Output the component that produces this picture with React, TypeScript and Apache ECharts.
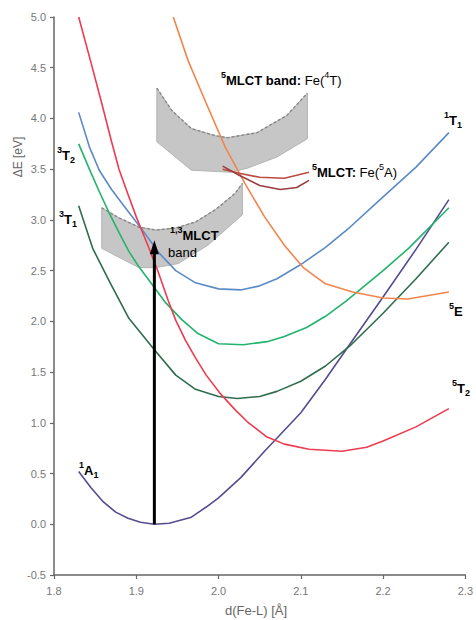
import React, { useEffect, useRef } from "react";
import * as echarts from "echarts";

// ---- Data ----
const X_TICKS = [1.8, 1.9, 2.0, 2.1, 2.2, 2.3];
const Y_TICKS = [-0.5, 0, 0.5, 1, 1.5, 2, 2.5, 3, 3.5, 4, 4.5, 5];

const A1 = [[1.83,0.52],[1.845,0.36],[1.86,0.22],[1.875,0.12],[1.89,0.06],[1.905,0.02],[1.922,0.0],[1.94,0.01],[1.967,0.07],[1.985,0.17],[2.0,0.26],[2.027,0.46],[2.057,0.73],[2.07,0.84],[2.1,1.1],[2.13,1.43],[2.16,1.78],[2.2,2.24],[2.24,2.71],[2.28,3.2]];
const T1_3 = [[1.83,3.14],[1.847,2.72],[1.867,2.4],[1.891,2.03],[1.922,1.72],[1.948,1.47],[1.972,1.33],[2.0,1.26],[2.023,1.24],[2.05,1.26],[2.071,1.31],[2.1,1.41],[2.13,1.56],[2.16,1.76],[2.2,2.08],[2.24,2.42],[2.28,2.78]];
const T2_3 = [[1.83,3.75],[1.843,3.5],[1.855,3.28],[1.867,3.07],[1.88,2.86],[1.891,2.69],[1.903,2.54],[1.915,2.41],[1.935,2.19],[1.955,2.02],[1.975,1.88],[2.0,1.78],[2.03,1.77],[2.059,1.8],[2.08,1.85],[2.107,1.94],[2.13,2.05],[2.155,2.2],[2.2,2.5],[2.231,2.72],[2.28,3.12]];
const T1_1 = [[1.83,4.06],[1.843,3.72],[1.855,3.49],[1.87,3.3],[1.883,3.16],[1.9,2.98],[1.912,2.85],[1.927,2.68],[1.948,2.5],[1.972,2.38],[2.0,2.32],[2.027,2.31],[2.05,2.35],[2.071,2.42],[2.1,2.56],[2.13,2.73],[2.16,2.93],[2.195,3.19],[2.24,3.52],[2.28,3.86]];
const T2_5 = [[1.83,5.0],[1.845,4.55],[1.858,4.15],[1.87,3.77],[1.879,3.5],[1.89,3.25],[1.9,3.03],[1.915,2.73],[1.927,2.48],[1.939,2.2],[1.948,2.01],[1.96,1.81],[1.972,1.64],[1.985,1.47],[2.003,1.28],[2.02,1.13],[2.035,1.01],[2.059,0.86],[2.08,0.79],[2.11,0.74],[2.15,0.72],[2.18,0.76],[2.2,0.82],[2.24,0.96],[2.28,1.14]];
const E_5 = [[1.945,5.0],[1.963,4.57],[1.985,4.15],[2.008,3.72],[2.032,3.36],[2.056,3.03],[2.08,2.75],[2.103,2.53],[2.13,2.37],[2.163,2.29],[2.2,2.23],[2.23,2.22],[2.28,2.29]];
const FE5A_A = [[2.005,3.5],[2.025,3.46],[2.05,3.42],[2.08,3.41],[2.11,3.47]];
const FE5A_B = [[2.005,3.53],[2.025,3.44],[2.05,3.34],[2.075,3.3],[2.095,3.32],[2.11,3.39]];

const FE4T_BAND_TOP = [[1.925,4.3],[1.943,4.08],[1.967,3.9],[1.996,3.83],[2.011,3.81],[2.047,3.86],[2.083,4.03],[2.108,4.25]];
const FE4T_BAND_BOTTOM = [[2.108,3.8],[2.071,3.62],[2.035,3.51],[2.015,3.47],[1.967,3.49],[1.925,3.77]];
const MLCT_BAND_TOP = [[1.858,3.12],[1.879,3.02],[1.903,2.93],[1.924,2.9],[1.948,2.92],[1.972,2.98],[1.996,3.1],[2.02,3.26],[2.029,3.36]];
const MLCT_BAND_BOTTOM = [[2.029,3.05],[1.987,2.75],[1.951,2.57],[1.924,2.53],[1.903,2.53],[1.858,2.72]];

const ARROW_X = 1.922;
const ARROW_FROM = 0;
const ARROW_TO = 2.8;

const FONT = '"Liberation Sans", Arial, Helvetica, sans-serif';

const CURVES = [
  { name: "1A1", data: A1, color: "#544c8e" },
  { name: "3T1", data: T1_3, color: "#2f6d4e" },
  { name: "3T2", data: T2_3, color: "#22b36c" },
  { name: "1T1", data: T1_1, color: "#5b8bc6" },
  { name: "5E", data: E_5, color: "#f2854c" },
  { name: "5T2", data: T2_5, color: "#ee3b50" },
  { name: "Fe5A_a", data: FE5A_A, color: "#bb4a40" },
  { name: "Fe5A_b", data: FE5A_B, color: "#9c3d3d" },
];

const BANDS = [
  { top: FE4T_BAND_TOP, bottom: FE4T_BAND_BOTTOM },
  { top: MLCT_BAND_TOP, bottom: MLCT_BAND_BOTTOM },
];

const rich = {
  b: { fontSize: 13, fontWeight: "bold", fontFamily: FONT, color: "#222", lineHeight: 19, verticalAlign: "middle" },
  n: { fontSize: 13, fontWeight: "normal", fontFamily: FONT, color: "#222", lineHeight: 19, verticalAlign: "middle" },
  sup: { fontSize: 9, fontWeight: "bold", fontFamily: FONT, color: "#222", lineHeight: 11, verticalAlign: "top" },
  supn: { fontSize: 9, fontWeight: "normal", fontFamily: FONT, color: "#222", lineHeight: 11, verticalAlign: "top" },
  sub: { fontSize: 9, fontWeight: "bold", fontFamily: FONT, color: "#222", lineHeight: 11, verticalAlign: "bottom" },
};

function label(text: string, x: number, y: number) {
  return {
    type: "text",
    x,
    y,
    z: 100,
    style: { text, rich, align: "left", verticalAlign: "middle" },
  };
}

export default function App() {
  const ref = useRef<HTMLDivElement>(null);
  useEffect(() => {
    if (!ref.current) return;
    const chart = echarts.init(ref.current, null, { renderer: "svg" });

    const lineSeries = CURVES.map((c) => ({
      type: "line",
      name: c.name,
      data: c.data,
      showSymbol: false,
      symbol: "none",
      smooth: false,
      lineStyle: { color: c.color, width: 1.6, join: "round" },
      z: 3,
      silent: true,
    }));

    const bandSeries = BANDS.map((band) => ({
      type: "custom",
      data: [band.top[0]],
      silent: true,
      z: 1,
      renderItem: (_params: any, api: any) => {
        const top = band.top.map((p) => api.coord(p));
        const bottom = band.bottom.map((p) => api.coord(p));
        return {
          type: "group",
          children: [
            {
              type: "polygon",
              shape: { points: top.concat(bottom) },
              style: { fill: "#c6c6c6", stroke: "#b4b4b4", lineWidth: 1 },
            },
            {
              type: "polyline",
              shape: { points: top },
              style: { fill: null, stroke: "#888", lineWidth: 1.4, lineDash: [3, 2] },
            },
          ],
        };
      },
    }));

    const arrowSeries = {
      type: "custom",
      data: [[ARROW_X, ARROW_TO]],
      silent: true,
      z: 5,
      renderItem: (_params: any, api: any) => {
        const p0 = api.coord([ARROW_X, ARROW_FROM]);
        const p1 = api.coord([ARROW_X, ARROW_TO]);
        const headLen = 14;
        const headW = 4.5;
        return {
          type: "group",
          children: [
            {
              type: "line",
              shape: { x1: p0[0], y1: p0[1], x2: p1[0], y2: p1[1] + headLen - 2 },
              style: { stroke: "#000", lineWidth: 3 },
            },
            {
              type: "polygon",
              shape: {
                points: [
                  [p1[0], p1[1]],
                  [p1[0] - headW, p1[1] + headLen],
                  [p1[0] + headW, p1[1] + headLen],
                ],
              },
              style: { fill: "#000" },
            },
          ],
        };
      },
    };

    chart.setOption({
      animation: false,
      grid: { left: 54, right: 6, top: 17, bottom: 45, containLabel: false },
      xAxis: {
        type: "value",
        min: X_TICKS[0],
        max: X_TICKS[X_TICKS.length - 1],
        interval: 0.1,
        axisLine: { show: true, onZero: false, lineStyle: { color: "#666", width: 1.5 } },
        axisTick: { show: true, length: 4, lineStyle: { color: "#666", width: 1.2 } },
        axisLabel: {
          color: "#777",
          fontSize: 11,
          fontFamily: FONT,
          margin: 10,
          formatter: (v: number) => v.toFixed(1),
        },
        splitLine: { show: false },
      },
      yAxis: {
        type: "value",
        min: Y_TICKS[0],
        max: Y_TICKS[Y_TICKS.length - 1],
        interval: 0.5,
        axisLine: { show: true, onZero: false, lineStyle: { color: "#666", width: 1.5 } },
        axisTick: { show: true, length: 4, lineStyle: { color: "#666", width: 1.2 } },
        axisLabel: {
          color: "#777",
          fontSize: 11,
          fontFamily: FONT,
          margin: 8,
          formatter: (v: number) => v.toFixed(1),
        },
        splitLine: { show: false },
      },
      graphic: [
        {
          type: "text",
          x: 18,
          y: 157,
          rotation: Math.PI / 2,
          style: {
            text: "ΔE [eV]",
            fill: "#666",
            font: `12px ${FONT}`,
            align: "center",
            verticalAlign: "middle",
          },
        },
        {
          type: "text",
          x: 256,
          y: 610,
          style: {
            text: "d(Fe-L) [Å]",
            fill: "#666",
            font: `13px ${FONT}`,
            align: "center",
            verticalAlign: "middle",
          },
        },
        label("{sup|1}{b|A}{sub|1}", 79, 470),
        label("{sup|3}{b|T}{sub|2}", 57, 155),
        label("{sup|3}{b|T}{sub|1}", 59, 219),
        label("{sup|1}{b|T}{sub|1}", 444, 120),
        label("{sup|5}{b|E}", 449, 311),
        label("{sup|5}{b|T}{sub|2}", 452, 388),
        label("{sup|5}{b|MLCT band:}{n| Fe(}{supn|4}{n|T)}", 221, 80),
        label("{sup|5}{b|MLCT:}{n| Fe(}{supn|5}{n|A)}", 312, 172),
        label("{sup|1,3}{b|MLCT}", 170, 235),
        label("{n|band}", 168, 252),
      ],
      series: [...bandSeries, ...lineSeries, arrowSeries],
    });

    return () => chart.dispose();
  }, []);

  return (
    <div
      ref={ref}
      style={{ position: "fixed", left: 0, top: 0, width: 476, height: 620, background: "#fff" }}
    />
  );
}
